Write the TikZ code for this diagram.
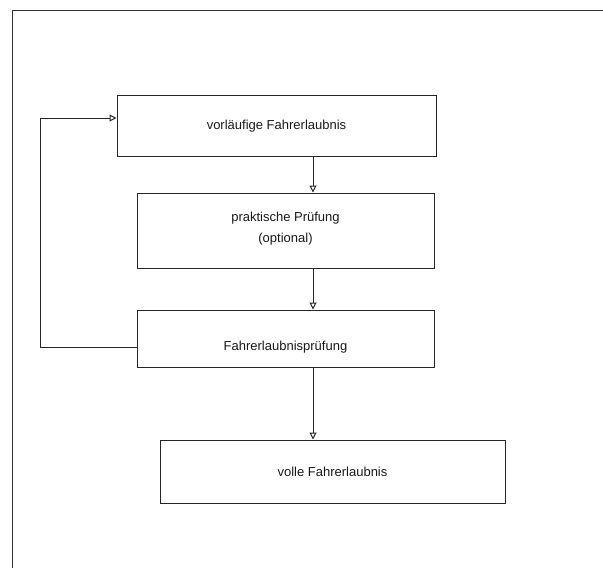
\documentclass[tikz,border=0pt]{standalone}
\usepackage{fontspec}
\setmainfont{Liberation Sans}
\usetikzlibrary{arrows.meta}
\begin{document}
\begin{tikzpicture}[x=1pt,y=-1pt,
  stepbox/.style={draw=black!85,line width=1pt,minimum height=0pt,inner sep=0pt},
  steptext/.style={font=\fontsize{13}{21}\selectfont,align=center,text=black!90},
  conn/.style={draw=black!85,line width=1pt,-{Triangle[open,length=7pt,width=7pt]}}]
\useasboundingbox (0,0) rectangle (603,568);
\draw[black!80,line width=1pt] (12,10) rectangle (620,590);
\node[stepbox,minimum width=319pt,minimum height=61pt] (b1) at (276.5,125.5) {};
\node[steptext,yshift=-1pt] (t1) at (b1.center) {vorläufige Fahrerlaubnis};
\node[stepbox,minimum width=297pt,minimum height=75pt] (b2) at (285.5,230.5) {};
\node[steptext,yshift=2pt] (t2) at (b2.center) {praktische Prüfung\\(optional)};
\node[stepbox,minimum width=297pt,minimum height=57pt] (b3) at (285.5,338.5) {};
\node[steptext,yshift=-9pt] (t3) at (b3.center) {Fahrerlaubnisprüfung};
\node[stepbox,minimum width=345pt,minimum height=63pt] (b4) at (332.5,471.5) {};
\node[steptext] (t4) at (b4.center) {volle Fahrerlaubnis};
\coordinate (c1) at (313,0);
\draw[conn] (b1.south -| c1) -- (b2.north -| c1);
\draw[conn] (b2.south -| c1) -- (b3.north -| c1);
\draw[conn] (b3.south -| c1) -- (b4.north -| c1);
\coordinate (lx) at (40,0);
\coordinate (ya) at (0,347);
\coordinate (yb) at (0,118);
\draw[conn] (b3.west |- ya) -- (lx |- ya) -- (lx |- yb) -- (b1.west |- yb);
\end{tikzpicture}
\end{document}
